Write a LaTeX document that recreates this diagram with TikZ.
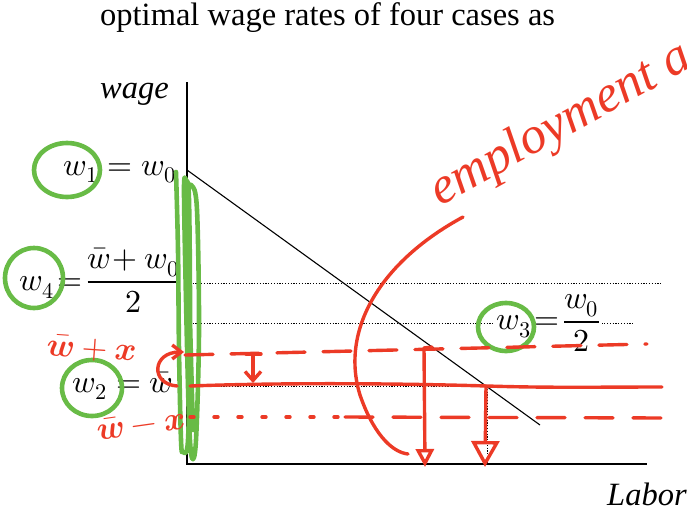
\documentclass[tikz,border=0pt]{standalone}
\usepackage{fontspec}
\usepackage{unicode-math}
\setmainfont{Liberation Serif}
\usetikzlibrary{arrows.meta}
\definecolor{penred}{RGB}{236,58,38}
\definecolor{pengreen}{RGB}{104,187,70}
\tikzset{
  txt/.style={inner sep=0pt, font=\fontsize{32.5}{38}\selectfont},
  mlabel/.style={inner sep=1pt, font=\fontsize{32}{38}\selectfont},
  axisline/.style={line width=1.6pt, black},
  dotline/.style={line width=0.9pt, black, dash pattern=on 1.2pt off 1.6pt},
  redpen/.style={line width=3.4pt, penred, line cap=round, line join=round},
  greenpen/.style={line width=4.6pt, pengreen, line cap=round, line join=round},
  redtxt/.style={inner sep=0pt, text=penred, font=\fontsize{33}{38}\selectfont},
}
\begin{document}
\begin{tikzpicture}[x=1pt,y=-1pt]
\useasboundingbox (0,0) rectangle (687,514);

% titles
\node[txt, anchor=base west] (title) at (100,25) {optimal wage rates of four cases as};
\node[txt, anchor=base west, font=\fontsize{32.5}{38}\selectfont\itshape] (wage) at (100,98) {wage};
\node[txt, anchor=base west, font=\fontsize{32.5}{38}\selectfont\itshape] (labor) at (607,505) {Labor};

% axes
\coordinate (ytop) at (187,82);
\coordinate (O) at (187,464);
\coordinate (xend) at (647,464);
\draw[axisline] (ytop) -- (O) -- (xend);

% demand line
\coordinate (d1) at (187,170);
\coordinate (d2) at (540,425);
\draw[line width=1.1pt] (d1) -- (d2);

% dotted guides
\coordinate (g4a) at (187,283); \coordinate (g4b) at (662,283);
\coordinate (g3a) at (187,323); \coordinate (g3b) at (633,323);
\coordinate (g2a) at (187,386); \coordinate (g2b) at (620,386);
\coordinate (gi) at (487,386); \coordinate (gib) at (487,463);
\draw[dotline] (g4a) -- (g4b);
\draw[dotline] (g3a) -- (g3b);
\draw[dotline] (g2a) -- (g2b);
\draw[dotline] (gi) -- (gib);

% math labels
\node[mlabel, anchor=base east] (w1) at (177,175) {$w_1 = w_0$};
\node[mlabel, anchor=center] (w4) at (100,280) {$w_4\!=\!\dfrac{\bar{w}\!+w_0}{2}$};
\node[mlabel, anchor=base east] (w2) at (174,392) {$w_2 = \bar{w}$};
\node[mlabel, anchor=center, fill=white, inner sep=2pt] (w3) at (548,323) {$w_3\!=\!\dfrac{w_0}{2}$};

% green circles
\draw[greenpen] (67,170) ellipse [x radius=33, y radius=27];
\draw[greenpen] (34,278) ellipse [x radius=29, y radius=30];
\draw[greenpen] (92,388) ellipse [x radius=30, y radius=28];
\draw[greenpen] (506,327) ellipse [x radius=28, y radius=24];

% green scribble on the axis
\draw[greenpen] plot[smooth, tension=0.55] coordinates {
  (176,172) (178,250) (179,350) (181,440) (183,452) (188,440) (190,330)
  (189,200) (186,180) (184,190) (186,300) (189,420) (192,458) (196,440)
  (199,330) (197,210) (192,186) (188,200) (190,320) (193,430)};

% red handwritten lines
\coordinate (ra) at (185,355); \coordinate (rb) at (647,344);
\draw[redpen, dash pattern=on 28pt off 18pt] (ra) -- (rb);
\coordinate (sa) at (190,386); \coordinate (sb) at (662,387);
\draw[redpen] (sa) .. controls (300,382) and (420,384) .. (487,386)
  .. controls (550,388) and (600,387) .. (sb);
\coordinate (la) at (190,417); \coordinate (lb) at (664,418);
\draw[redpen, dash pattern=on 4pt off 20pt] (la) -- (345,417);
\draw[redpen, dash pattern=on 28pt off 20pt] (345,417) -- (lb);

% hook arrow onto axis
\coordinate (h1) at (177,386); \coordinate (h2) at (184,352);
\draw[redpen, -{Straight Barb[length=9pt,width=14pt]}] (h1) .. controls (150,384) and (152,352) .. (h2);

% small shift arrow
\coordinate (s1) at (253,355); \coordinate (s2) at (253,383);
\draw[redpen] (246,354) -- (261,354);
\draw[redpen, -{Straight Barb[length=9pt,width=16pt]}] (s1) -- (s2);

% big arc
\coordinate (a1) at (463,217); \coordinate (a2) at (408,454);
\draw[redpen] (a1) .. controls (380,262) and (340,330) .. (360,395)
  .. controls (372,430) and (390,452) .. (a2);

% vertical arrows
\coordinate (v1) at (424,348); \coordinate (v2) at (425,467);
\draw[redpen] (432,347) -- (v1);
\draw[redpen, -{Triangle[open,length=18pt,width=18pt]}] (v1) -- (v2);
\coordinate (u1) at (486,386); \coordinate (u2) at (485,467);
\draw[redpen, -{Triangle[open,length=26pt,width=28pt]}] (u1) -- (u2);

% red handwritten labels
\node[redtxt, rotate=-4] (wpx) at (92,349) {$\bar{\symbfit{w}}\symbf{+}\symbfit{x}$};
\node[redtxt, rotate=8] (wmx) at (141,424) {$\bar{\symbfit{w}}\symbf{-}\symbfit{x}$};
\node[redtxt, anchor=base west, rotate=29, font=\fontsize{52}{58}\selectfont\itshape] (emp) at (440,207) {employment a};
\end{tikzpicture}
\end{document}
